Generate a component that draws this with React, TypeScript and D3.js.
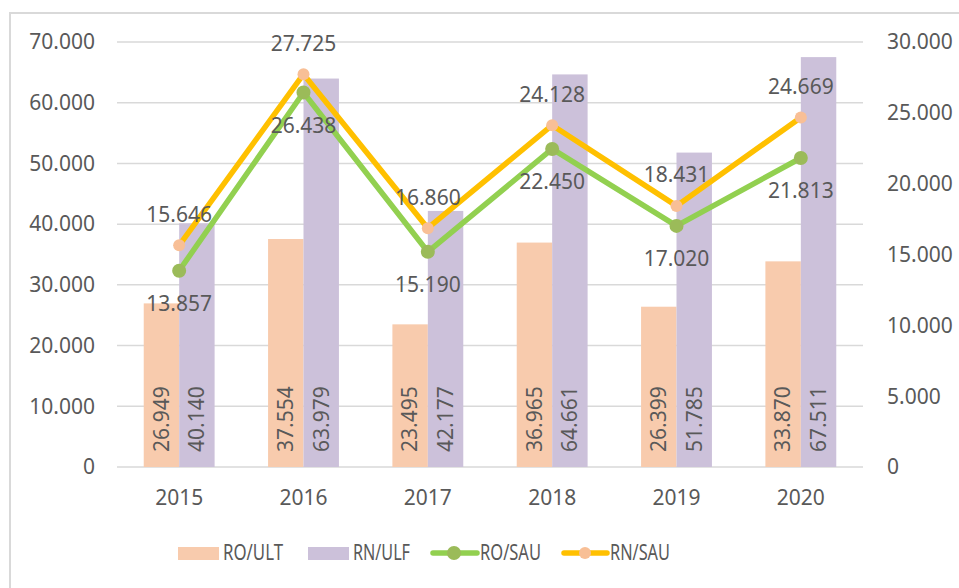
import React from 'react';
import * as d3 from 'd3';

// values in thousands, shown with "." as thousands separator
const years = ['2015', '2016', '2017', '2018', '2019', '2020'];
const roUlt = [26.949, 37.554, 23.495, 36.965, 26.399, 33.87];
const rnUlf = [40.14, 63.979, 42.177, 64.661, 51.785, 67.511];
const roSau = [13.857, 26.438, 15.19, 22.45, 17.02, 21.813];
const rnSau = [15.646, 27.725, 16.86, 24.128, 18.431, 24.669];
const leftTicks = [0, 10, 20, 30, 40, 50, 60, 70];
const rightTicks = [0, 5, 10, 15, 20, 25, 30];

const W = 959;
const H = 588;
const FONT = '"Noto Sans", "Open Sans", sans-serif';
const TXT = '#595959';
const PEACH = '#F8CBAD';
const LAV = '#CCC1DA';
const GREEN = '#92D050';
const GREEN_M = '#9BBB59';
const ORANGE = '#FFC000';
const ORANGE_M = '#F8BF96';

const fmt = (v: number) => (v === 0 ? '0' : d3.format('.3f')(v));

export default function App() {
  const x0 = d3
    .scaleBand<string>()
    .domain(years)
    .range([117, 863])
    .paddingInner(0.43)
    .paddingOuter(0.215);
  const x1 = d3
    .scaleBand<string>()
    .domain(['RO/ULT', 'RN/ULF'])
    .range([0, x0.bandwidth()]);
  const yL = d3.scaleLinear().domain([0, 70]).range([467, 42]);
  const yR = d3.scaleLinear().domain([0, 30]).range([467, 42]);
  const cx = (y: string) => (x0(y) as number) + x0.bandwidth() / 2;

  const lineR = d3
    .line<number>()
    .x((_, i) => cx(years[i]))
    .y((d) => yR(d));

  const barSeries = [
    { name: 'RO/ULT', vals: roUlt, color: PEACH },
    { name: 'RN/ULF', vals: rnUlf, color: LAV },
  ];

  const fs = 21;

  return (
    <svg
      width={W}
      height={H}
      style={{ position: 'absolute', left: 0, top: 0, background: '#fff' }}
      fontFamily={FONT}
    >
      <rect x={10} y={13} width={W + 20} height={H + 20} fill="#fff" stroke="#d9d9d9" strokeWidth={2} />

      {/* gridlines */}
      {leftTicks.map((t) => (
        <line key={t} x1={117} x2={863} y1={yL(t)} y2={yL(t)} stroke="#d9d9d9" strokeWidth={1.5} />
      ))}

      {/* left axis */}
      {leftTicks.map((t) => (
        <text key={t} x={95} y={yL(t)} dy="0.35em" textAnchor="end" fontSize={fs} fill={TXT}>
          {fmt(t)}
        </text>
      ))}
      {/* right axis */}
      {rightTicks.map((t) => (
        <text key={t} x={887} y={yR(t)} dy="0.35em" textAnchor="start" fontSize={fs} fill={TXT}>
          {fmt(t)}
        </text>
      ))}
      {/* x axis labels */}
      {years.map((y) => (
        <text key={y} x={cx(y)} y={498} dy="0.35em" textAnchor="middle" fontSize={fs} fill={TXT}>
          {y}
        </text>
      ))}

      {/* bars */}
      {barSeries.map((s) =>
        s.vals.map((v, i) => {
          const bx = (x0(years[i]) as number) + (x1(s.name) as number);
          return (
            <rect
              key={s.name + i}
              x={bx}
              y={yL(v)}
              width={x1.bandwidth()}
              height={yL(0) - yL(v)}
              fill={s.color}
            />
          );
        })
      )}

      {/* lines */}
      <path d={lineR(roSau) as string} fill="none" stroke={GREEN} strokeWidth={5.5} strokeLinejoin="round" />
      <path d={lineR(rnSau) as string} fill="none" stroke={ORANGE} strokeWidth={5.5} strokeLinejoin="round" />
      {roSau.map((v, i) => (
        <circle key={'g' + i} cx={cx(years[i])} cy={yR(v)} r={7} fill={GREEN_M} />
      ))}
      {rnSau.map((v, i) => (
        <circle key={'o' + i} cx={cx(years[i])} cy={yR(v)} r={6} fill={ORANGE_M} />
      ))}

      {/* bar labels */}
      {barSeries.map((s) =>
        s.vals.map((v, i) => {
          const bx = (x0(years[i]) as number) + (x1(s.name) as number) + x1.bandwidth() / 2;
          const by = yL(0) - 15;
          return (
            <text
              key={'bl' + s.name + i}
              transform={`translate(${bx},${by}) rotate(-90)`}
              dy="0.35em"
              textAnchor="start"
              fontSize={fs}
              fill={TXT}
            >
              {fmt(v)}
            </text>
          );
        })
      )}

      {/* line labels */}
      {rnSau.map((v, i) => (
        <text key={'lo' + i} x={cx(years[i])} y={yR(v) - 31} dy="0.35em" textAnchor="middle" fontSize={fs} fill={TXT}>
          {fmt(v)}
        </text>
      ))}
      {roSau.map((v, i) => (
        <text key={'lg' + i} x={cx(years[i])} y={yR(v) + 33} dy="0.35em" textAnchor="middle" fontSize={fs} fill={TXT}>
          {fmt(v)}
        </text>
      ))}

      {/* legend */}
      <g fontSize={fs} fill={TXT}>
        <rect x={178} y={547} width={41} height={13} fill={PEACH} />
        <text x={223} y={553} dy="0.35em" textLength={60} lengthAdjust="spacingAndGlyphs">RO/ULT</text>
        <rect x={308} y={547} width={41} height={13} fill={LAV} />
        <text x={353} y={553} dy="0.35em" textLength={57} lengthAdjust="spacingAndGlyphs">RN/ULF</text>
        <line x1={433} x2={477} y1={553} y2={553} stroke={GREEN} strokeWidth={5.5} strokeLinecap="round" />
        <circle cx={454} cy={553} r={7} fill={GREEN_M} />
        <text x={480} y={553} dy="0.35em" textLength={61} lengthAdjust="spacingAndGlyphs">RO/SAU</text>
        <line x1={564} x2={607} y1={553} y2={553} stroke={ORANGE} strokeWidth={5.5} strokeLinecap="round" />
        <circle cx={585} cy={553} r={6} fill={ORANGE_M} />
        <text x={610} y={553} dy="0.35em" textLength={60} lengthAdjust="spacingAndGlyphs">RN/SAU</text>
      </g>
    </svg>
  );
}
